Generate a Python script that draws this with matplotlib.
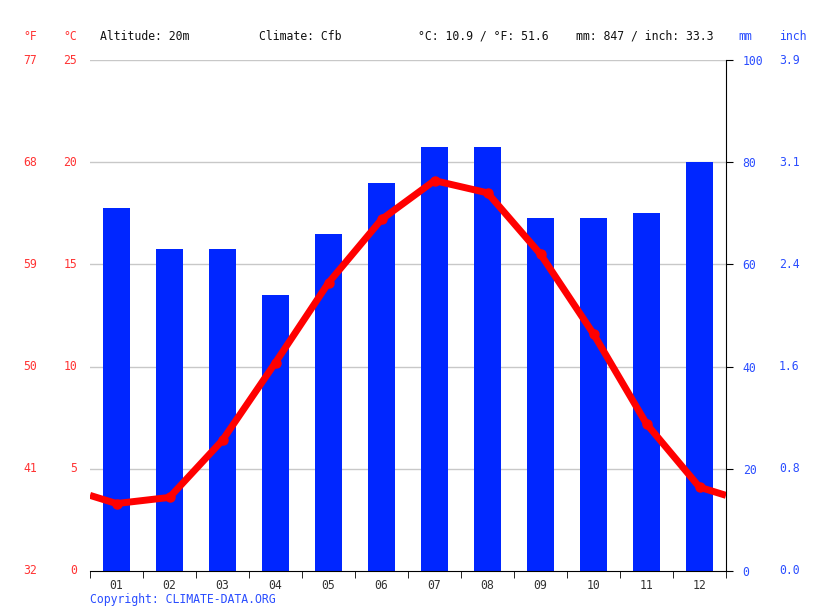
import numpy as np
import matplotlib.pyplot as plt
import matplotlib.transforms as mtransforms

months = ['01', '02', '03', '04', '05', '06', '07', '08', '09', '10', '11', '12']
precip_mm = [71, 63, 63, 54, 66, 76, 83, 83, 69, 69, 70, 80]
temp_c = [3.3, 3.6, 6.4, 10.2, 14.1, 17.2, 19.1, 18.5, 15.5, 11.6, 7.2, 4.1]
c_ticks = [0, 5, 10, 15, 20, 25]
f_labels = ['32', '41', '50', '59', '68', '77']
mm_ticks = [0, 20, 40, 60, 80, 100]
inch_labels = ['0.0', '0.8', '1.6', '2.4', '3.1', '3.9']
header = ['Altitude: 20m', 'Climate: Cfb', '°C: 10.9 / °F: 51.6', 'mm: 847 / inch: 33.3']

RED = '#ff0000'
LRED = '#ff3333'
BLUE = '#0026ff'
LBLUE = '#2a4dff'
plt.rcParams['font.family'] = ['DejaVu Sans Mono']
fs = 8.3

W, H = 815, 611
fig = plt.figure(figsize=(W / 100, H / 100), dpi=100)
ax = fig.add_axes([90 / W, (H - 571) / H, (726 - 90) / W, (571 - 60) / H])

x = np.arange(1, 13)
scale = 100 / 25  # mm per degree C

ax.bar(x, precip_mm, width=0.51, color=BLUE, zorder=2)

# line wraps across the year at the edges
edge = (temp_c[0] + temp_c[-1]) / 2
lx = np.concatenate([[0.5], x, [12.5]])
ly = np.concatenate([[edge], temp_c, [edge]]) * scale
ax.plot(lx, ly, color=RED, lw=5, zorder=3, solid_capstyle='butt')
ax.plot(x, np.array(temp_c) * scale, 'o', color=RED, ms=6.5, zorder=4)

ax.set_xlim(0.5, 12.5)
ax.set_ylim(0, 100)
for t in mm_ticks[1:]:
    ax.axhline(t, color='#c8c8c8', lw=1, zorder=1)

for s in ['left', 'top']:
    ax.spines[s].set_visible(False)
ax.spines['bottom'].set_color('black')
ax.spines['right'].set_color('black')

ax.set_xticks(x)
ax.set_xticklabels(months, fontsize=fs, color='#333333')
ax.set_xticks(np.arange(0.5, 13, 1), minor=True)
ax.tick_params(axis='x', which='major', length=0, pad=6)
ax.tick_params(axis='x', which='minor', length=5, direction='out', color='black')

ax.yaxis.tick_right()
ax.set_yticks(mm_ticks)
ax.set_yticklabels([str(t) for t in mm_ticks], fontsize=fs, color=LBLUE)
ax.tick_params(axis='y', length=5, direction='out', pad=7, color='black')

tr_left = mtransforms.blended_transform_factory(fig.transFigure, ax.transData)
for c, f in zip(c_ticks, f_labels):
    ax.text(77 / W, c * scale, str(c), transform=tr_left, ha='right', va='center', fontsize=fs, color=LRED)
    ax.text(37 / W, c * scale, f, transform=tr_left, ha='right', va='center', fontsize=fs, color=LRED)
for m, inch in zip(mm_ticks, inch_labels):
    ax.text(779 / W, m, inch, transform=tr_left, ha='left', va='center', fontsize=fs, color=LBLUE)

hy = 1 - 36 / H
fig.text(37 / W, hy, '°F', ha='right', va='center', fontsize=fs, color=LRED)
fig.text(77 / W, hy, '°C', ha='right', va='center', fontsize=fs, color=LRED)
fig.text(738 / W, hy, 'mm', ha='left', va='center', fontsize=fs, color=LBLUE)
fig.text(779 / W, hy, 'inch', ha='left', va='center', fontsize=fs, color=LBLUE)
for xp, txt in zip([100, 259, 418, 576], header):
    fig.text(xp / W, hy, txt, ha='left', va='center', fontsize=fs, color='#111111')

fig.text(90 / W, 1 - 599 / H, 'Copyright: CLIMATE-DATA.ORG', ha='left', va='center', fontsize=fs, color=LBLUE)

fig.savefig('out.png', dpi=100)
